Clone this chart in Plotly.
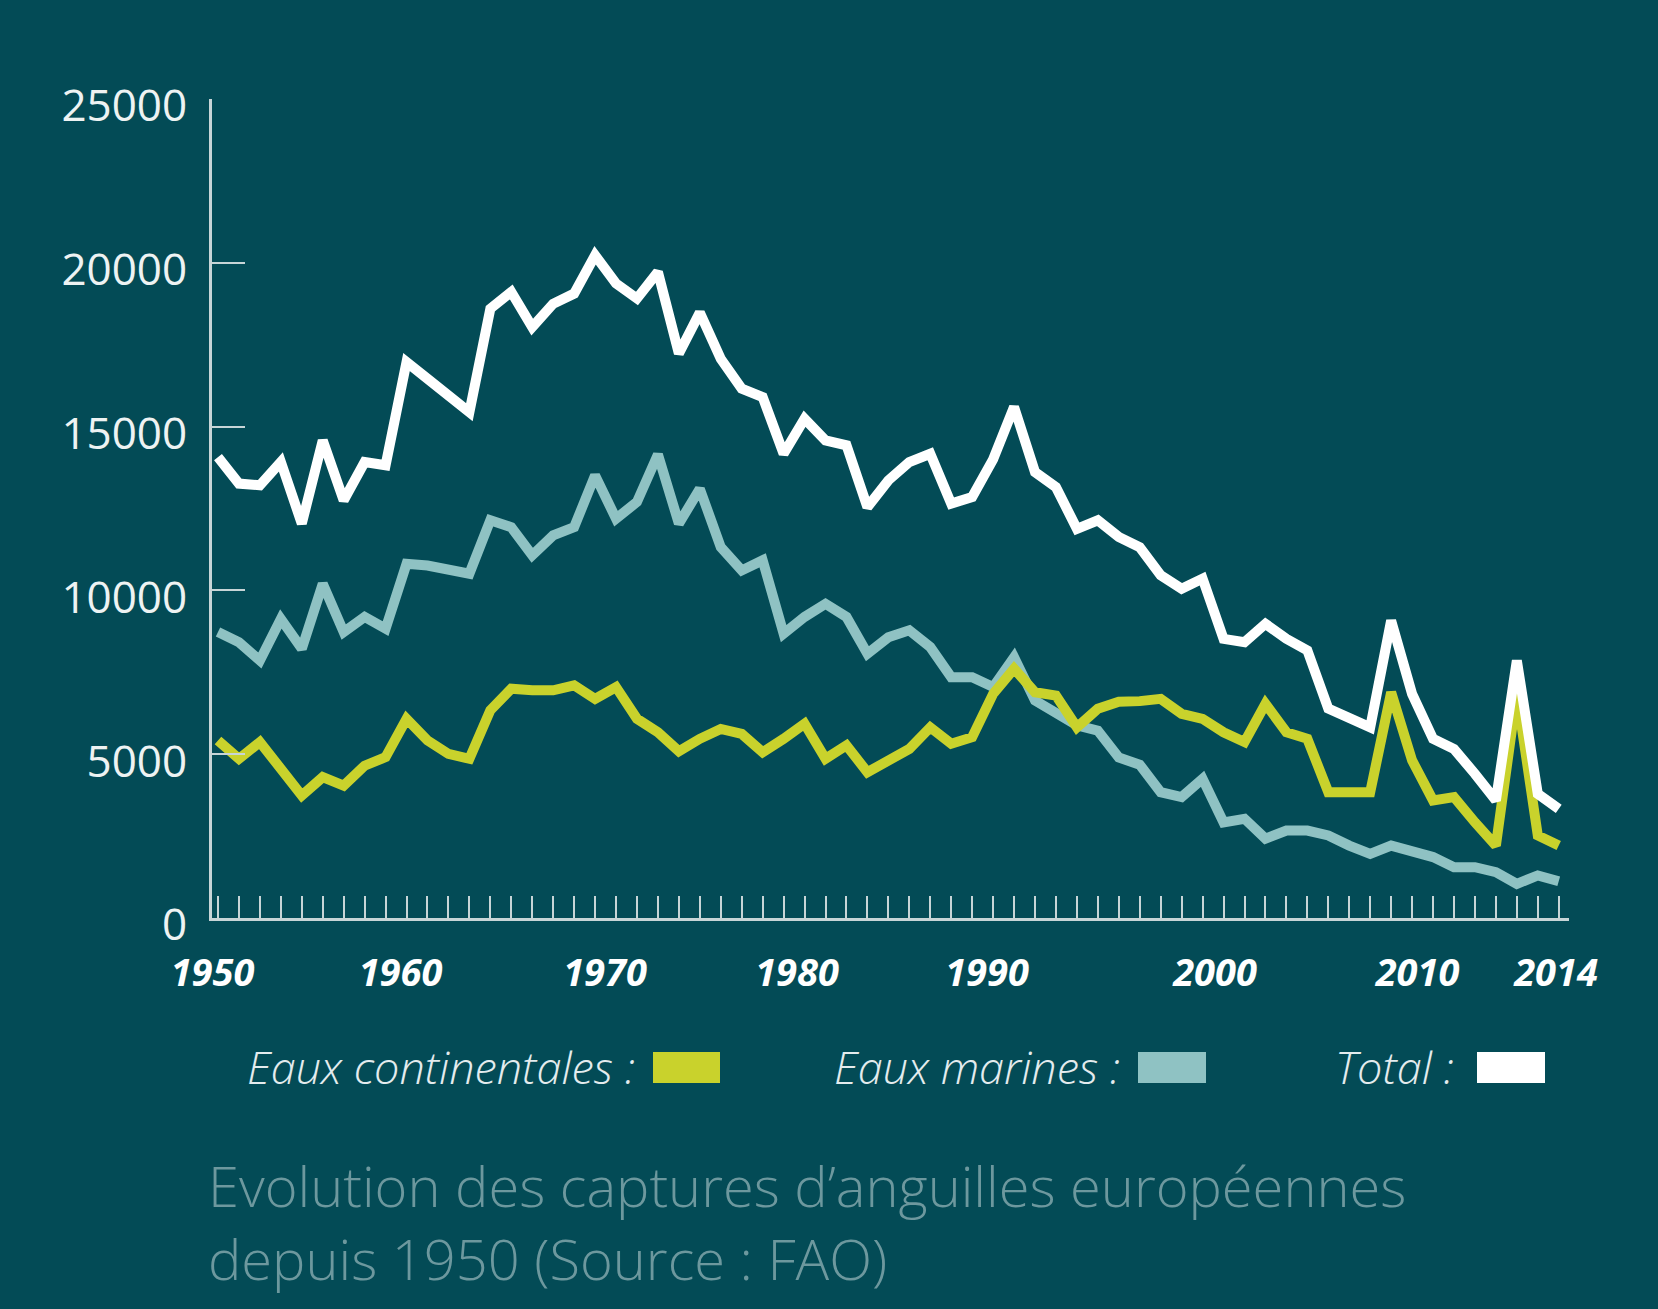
import plotly.graph_objects as go

# ---------------- data ----------------
years = list(range(1950, 2015))

eaux_continentales = [
    5420, 4860, 5370, 4600, 3740, 4300, 4040, 4650, 4910, 6080,
    5420, 5010, 4860, 6340, 7000, 6950, 6950, 7100, 6690, 7050,
    6080, 5670, 5090, 5470, 5770, 5620, 5060, 5470, 5930, 4860,
    5270, 4450, 4810, 5160, 5820, 5320, 5520, 6840, 7610, 6890,
    6790, 5820, 6390, 6600, 6620, 6690, 6230, 6080, 5670, 5370,
    6540, 5670, 5470, 3840, 3840, 3840, 6890, 4810, 3590, 3690,
    2920, 2210, 6840, 2520, 2210,
]

eaux_marines = [
    8730, 8420, 7860, 9130, 8220, 10200, 8730, 9190, 8830, 10810,
    10760, 10660, 10510, 12140, 11930, 11070, 11680, 11930, 13510, 12190,
    12700, 14150, 12040, 13100, 11320, 10610, 10920, 8680, 9190, 9590,
    9190, 8070, 8570, 8780, 8270, 7350, 7350, 7050, 7960, 6640,
    6230, 5880, 5720, 4900, 4680, 3840, 3690, 4250, 2920, 3030,
    2420, 2670, 2670, 2520, 2210, 1960, 2210, 2010, 1860, 1550,
    1550, 1400, 1040, 1300, 1120,
]

total = [
    14070, 13260, 13210, 13920, 12040, 14580, 12750, 13920, 13820, 16970,
    16460, 15950, 15440, 18600, 19110, 18040, 18750, 19060, 20230, 19370,
    18910, 19720, 17230, 18480, 17070, 16160, 15900, 14170, 15240, 14580,
    14430, 12540, 13360, 13920, 14170, 12650, 12850, 14000, 15600, 13610,
    13150, 11880, 12140, 11630, 11320, 10460, 10050, 10360, 8520, 8420,
    8980, 8520, 8170, 6390, 6080, 5820, 9080, 6840, 5470, 5160,
    4400, 3590, 7860, 3790, 3330,
]

y_tick_values = [0, 5000, 10000, 15000, 20000, 25000]
x_tick_labels = ["1950", "1960", "1970", "1980", "1990", "2000", "2010", "2014"]
series_names = ["Eaux continentales :", "Eaux marines :", "Total :"]
title_lines = ["Evolution des captures d’anguilles européennes",
               "depuis 1950 (Source : FAO)"]

# ---------------- style / layout ----------------
W, H = 1658, 1309
L, R, T, B = 212, 89, 99, 391
PW, PH = W - L - R, H - T - B
BG = "#034b56"
C_CONT = "#c9d22c"
C_MAR = "#8fc2c3"
C_TOT = "#ffffff"
AXIS_C = "#c7d5d7"
FONT = "Open Sans"

X_RANGE = [1949.714, 2014.49]


def px_x(px):
    return (px - L) / PW


def px_y(py):
    return (H - B - py) / PH


def px_to_year(px):
    return X_RANGE[0] + (px - L) / PW * (X_RANGE[1] - X_RANGE[0])


# label centres as they sit in the reference drawing
x_label_px = [212.5, 400.5, 605, 797, 987, 1215, 1417.5, 1556]
x_tick_pos = [px_to_year(p) for p in x_label_px]

fig = go.Figure()
for name, vals, col in [(series_names[1], eaux_marines, C_MAR),
                        (series_names[0], eaux_continentales, C_CONT),
                        (series_names[2], total, C_TOT)]:
    fig.add_trace(go.Scatter(x=years, y=vals, mode="lines", name=name,
                             line=dict(color=col, width=10),
                             showlegend=False, hoverinfo="x+y"))

fig.update_layout(
    width=W, height=H,
    margin=dict(l=L, r=R, t=T, b=B, pad=0),
    paper_bgcolor=BG, plot_bgcolor=BG,
    showlegend=False,
    xaxis=dict(
        range=X_RANGE, showgrid=False, zeroline=False,
        showline=True, linecolor=AXIS_C, linewidth=3,
        tickmode="array", tickvals=x_tick_pos, ticktext=x_tick_labels,
        ticks="", ticklabelstandoff=19,
        tickfont=dict(family=FONT, size=38, color="#ffffff",
                      weight="bold", style="italic"),
        minor=dict(tickmode="linear", tick0=1950, dtick=1, ticks="inside",
                   ticklen=22, tickwidth=2, tickcolor=AXIS_C, showgrid=False),
    ),
    yaxis=dict(
        range=[0, 25000], showgrid=False, zeroline=False,
        showline=True, linecolor=AXIS_C, linewidth=3,
        tickmode="array", tickvals=y_tick_values,
        ticktext=[str(v) for v in y_tick_values],
        ticks="inside", ticklen=33, tickwidth=2, tickcolor=AXIS_C,
        ticklabelstandoff=13, ticklabelshift=7,
        tickfont=dict(family=FONT, size=44, color="#eef3f3"),
    ),
)

# legend: text followed by a colour swatch
legend_items = [
    (series_names[0], C_CONT, 637, 653, 720),
    (series_names[1], C_MAR, 1122, 1138, 1206),
    (series_names[2], C_TOT, 1456, 1477, 1545),
]
for text, col, tx, sx0, sx1 in legend_items:
    fig.add_annotation(x=px_x(tx), y=px_y(1066), xref="paper", yref="paper",
                       text=text, showarrow=False, xanchor="right",
                       yanchor="middle",
                       font=dict(family=FONT, size=45, color="#e4ecee",
                                 weight=300, style="italic"))
    fig.add_shape(type="rect", xref="paper", yref="paper",
                  x0=px_x(sx0), x1=px_x(sx1), y0=px_y(1083), y1=px_y(1052),
                  fillcolor=col, line=dict(width=0))

# caption (two lines in one text block)
fig.add_annotation(x=px_x(206), y=px_y(1221), xref="paper", yref="paper",
                   text="<br>".join(title_lines), showarrow=False,
                   xanchor="left", yanchor="middle", align="left",
                   font=dict(family=FONT, size=56, color="#6d989e",
                             weight=300))

fig.write_html("out.html",
               config={"displayModeBar": False},
               post_script="document.body.style.margin='0';"
                           "document.body.style.overflow='hidden';")
